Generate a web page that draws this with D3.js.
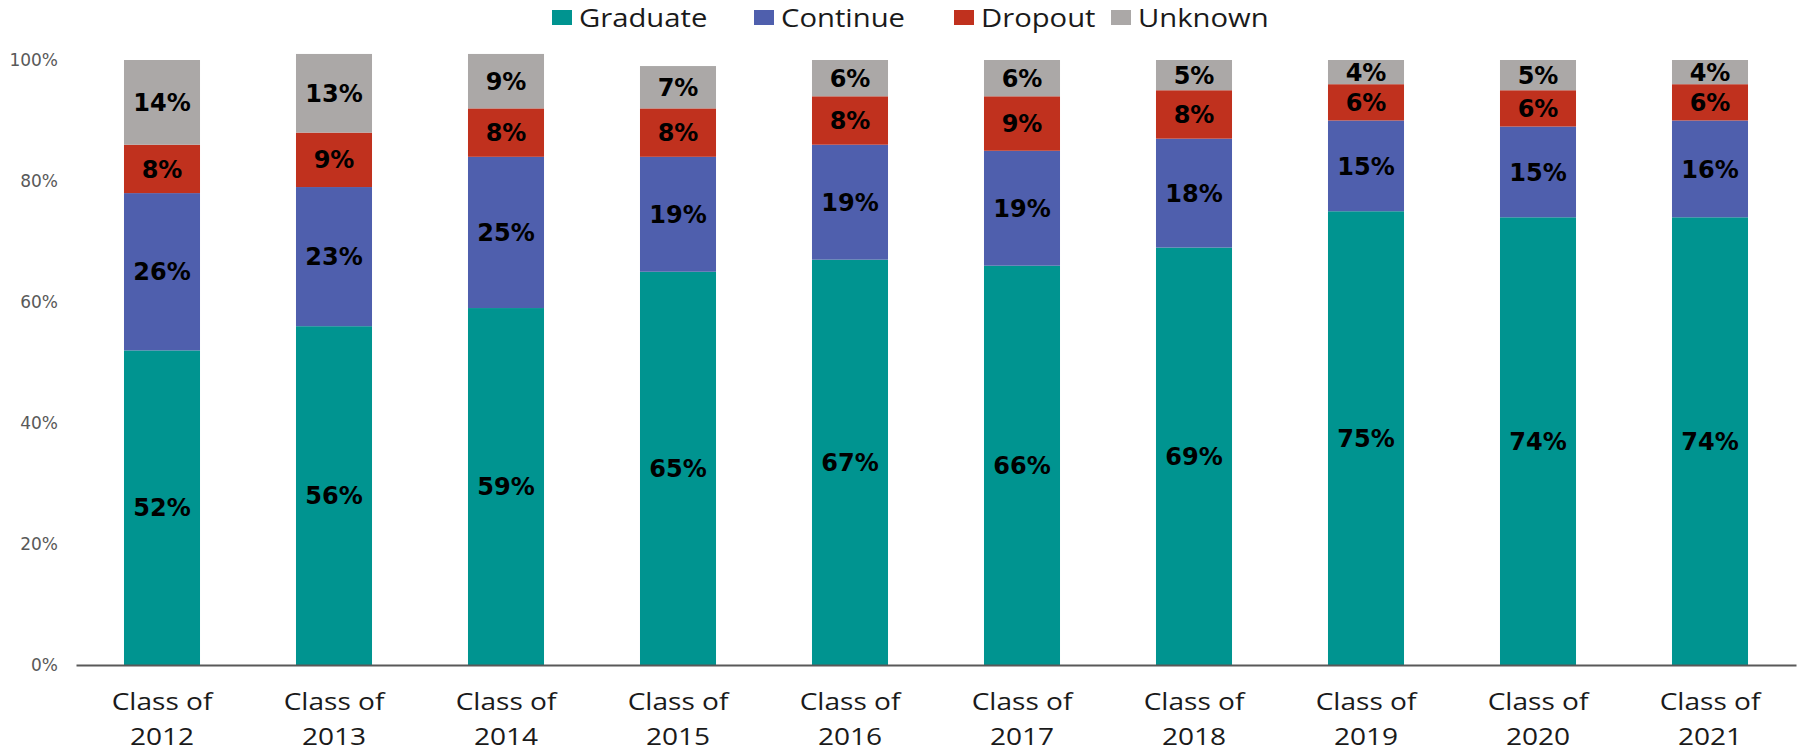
<!DOCTYPE html>
<html>
<head>
<meta charset="utf-8">
<script src="https://cdn.jsdelivr.net/npm/d3@7/dist/d3.min.js"></script>
<style>
  html, body { margin: 0; padding: 0; background: #fff; }
  svg { display: block; }
</style>
</head>
<body>
<svg id="chart" width="1804" height="753"></svg>
<script>
// Cohort outcomes, percent of each class
const classes = ["2012", "2013", "2014", "2015", "2016", "2017", "2018", "2019", "2020", "2021"];
const seriesNames = ["Graduate", "Continue", "Dropout", "Unknown"];
const graduate = [52, 56, 59, 65, 67, 66, 69, 75, 74, 74];
const continuing = [26, 23, 25, 19, 19, 19, 18, 15, 15, 16];
const dropout = [8, 9, 8, 8, 8, 9, 8, 6, 6, 6];
const unknown = [14, 13, 9, 7, 6, 6, 5, 4, 5, 4];
const yTicks = [0, 20, 40, 60, 80, 100];
const colors = ["#009490", "#4F5FAD", "#C0311E", "#ABA8A7"];

const rows = classes.map((c, i) => ({
  cls: c,
  Graduate: graduate[i],
  Continue: continuing[i],
  Dropout: dropout[i],
  Unknown: unknown[i]
}));

const svg = d3.select("#chart");
const plotLeft = 76, plotRight = 1796, plotTop = 60, plotBottom = 665;
const stretch = 1.17; // wide-set lettering for category and legend text

const x = d3.scaleBand().domain(classes).range([plotLeft, plotRight]).paddingInner(0.558).paddingOuter(0.279);
const y = d3.scaleLinear().domain([0, 100]).range([plotBottom, plotTop]);
const color = d3.scaleOrdinal().domain(seriesNames).range(colors);

const stacked = d3.stack().keys(seriesNames)(rows);

// Bars
const layers = svg.append("g").selectAll("g")
  .data(stacked).join("g")
  .attr("fill", d => color(d.key));

layers.selectAll("rect")
  .data(d => d.map(s => ({ key: d.key, s })))
  .join("rect")
  .attr("x", d => x(d.s.data.cls))
  .attr("width", x.bandwidth())
  .attr("y", d => y(d.s[1]))
  .attr("height", d => y(d.s[0]) - y(d.s[1]));

// Value labels centred in each segment
layers.selectAll("text")
  .data(d => d.map(s => ({ key: d.key, s })))
  .join("text")
  .attr("x", d => x(d.s.data.cls) + x.bandwidth() / 2)
  .attr("y", d => y((d.s[0] + d.s[1]) / 2))
  .attr("dy", "0.36em")
  .attr("text-anchor", "middle")
  .attr("fill", "#000")
  .style("font-family", "'DejaVu Sans', Verdana, sans-serif")
  .style("font-weight", "bold")
  .style("font-size", "24px")
  .text(d => d.s.data[d.key] + "%");

// Y axis labels (no line, no ticks)
const yAxis = svg.append("g")
  .attr("transform", `translate(${plotLeft - 18},0)`)
  .call(d3.axisLeft(y).tickValues(yTicks).tickFormat(d => d + "%").tickSize(0).tickPadding(0));
yAxis.select(".domain").remove();
yAxis.selectAll("text")
  .attr("fill", "#595959")
  .style("font-family", "'DejaVu Sans', Verdana, sans-serif")
  .style("font-size", "17px");

// X axis baseline
const xAxis = svg.append("g")
  .attr("transform", `translate(0,${plotBottom})`)
  .call(d3.axisBottom(x).tickSize(0).tickFormat(""));
xAxis.select(".domain").attr("stroke", "#595959").attr("stroke-width", 2);

// Two-line category labels, one text element per line
const xLabels = svg.append("g");
const addLine = (cls, baseline, fmt) => xLabels.selectAll("text." + cls)
  .data(classes).join("text").attr("class", cls)
  .attr("transform", d => `translate(${x(d) + x.bandwidth() / 2},${baseline}) scale(${stretch},1)`)
  .attr("text-anchor", "middle")
  .attr("fill", "#1a1a1a")
  .style("font-family", "'Open Sans', sans-serif")
  .style("font-size", "24px")
  .text(fmt);
addLine("l1", 710, () => "Class of");
addLine("l2", 745, d => d);

// Legend
const legendX = [552, 754, 954, 1111];
const legend = svg.append("g").selectAll("g")
  .data(seriesNames).join("g")
  .attr("transform", (d, i) => `translate(${legendX[i]},0)`);
legend.append("rect")
  .attr("x", 0).attr("y", 10).attr("width", 20).attr("height", 15)
  .attr("fill", d => color(d));
legend.append("text")
  .attr("transform", `translate(27,27) scale(${stretch},1)`)
  .attr("fill", "#1a1a1a")
  .style("font-family", "'Open Sans', sans-serif")
  .style("font-size", "25px")
  .text(d => d);
</script>
</body>
</html>
